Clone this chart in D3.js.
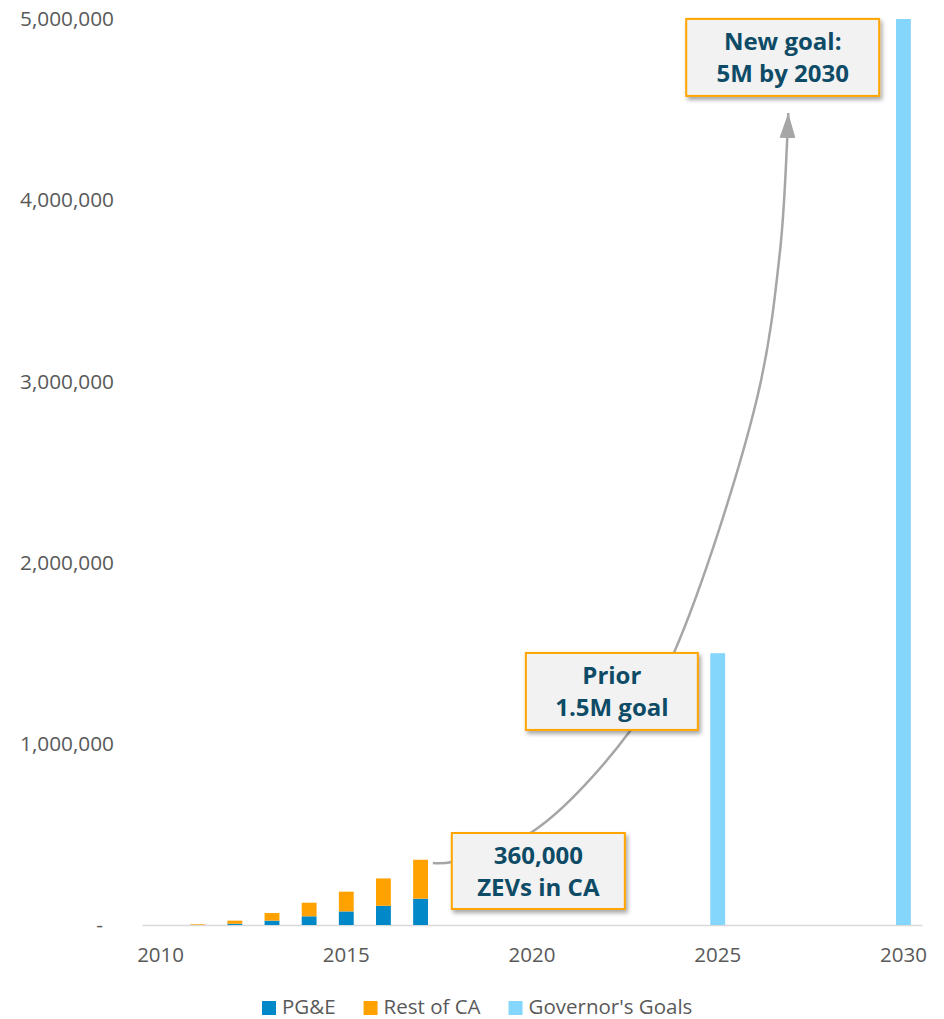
<!DOCTYPE html>
<html>
<head>
<meta charset="utf-8">
<script src="https://cdn.jsdelivr.net/npm/d3@7"></script>
<style>
  html, body { margin: 0; padding: 0; background: #fff; }
  svg { display: block; }
</style>
</head>
<body>
<svg id="chart" width="944" height="1019"></svg>
<script>
// Zero-emission vehicles on the road in California, with state goals
const years = ["2010","2011","2012","2013","2014","2015","2016","2017","2018","2019","2020",
               "2021","2022","2023","2024","2025","2026","2027","2028","2029","2030"];
const historyYears = ["2010","2011","2012","2013","2014","2015","2016","2017"];
const pgeValues    = [0, 500, 7000, 24000, 48000, 75000, 106000, 145000];
const restValues   = [0, 3500, 17000, 42000, 75000, 109000, 151000, 215000];
const goalYears    = ["2025", "2030"];
const goalValues   = [1500000, 5000000];
const xTickLabels  = ["2010","2015","2020","2025","2030"];
const yTickValues  = [0, 1000000, 2000000, 3000000, 4000000, 5000000];
const legendLabels = ["PG&E", "Rest of CA", "Governor's Goals"];

// Callouts, positioned in chart units (year, vehicles)
const callouts = [
  { lines: ["360,000", "ZEVs in CA"], year: 2020.17, value: 298000, w: 173, h: 76 },
  { lines: ["Prior", "1.5M goal"],    year: 2022.15, value: 1289000, w: 172, h: 77 },
  { lines: ["New goal:", "5M by 2030"], year: 2026.75, value: 4788000, w: 193, h: 77 }
];
// Path of the growth arrow, in chart units (year, vehicles)
const arrowYears  = [2017.33, 2017.85, 2020.0, 2022.64, 2023.83, 2026.06, 2026.68, 2026.87, 2026.9];
const arrowValues = [342000, 348000, 513000, 1071000, 1507000, 2908000, 3725000, 4332000, 4481000];

const colors = { pge: "#0088C8", rest: "#FFA200", goal: "#85D6FC" };
const legendColors = [colors.pge, colors.rest, colors.goal];

const svg = d3.select("#chart");
const plotLeft = 142, plotRight = 922, plotTop = 19, plotBottom = 925;

const x = d3.scaleBand().domain(years).range([plotLeft, plotRight]).paddingInner(0.6).paddingOuter(0.3);
const y = d3.scaleLinear().domain([0, 5000000]).range([plotBottom, plotTop]);
// continuous year position, aligned with band centres
const xYear = d3.scaleLinear().domain([2010, 2030])
  .range([x("2010") + x.bandwidth() / 2, x("2030") + x.bandwidth() / 2]);

const defs = svg.append("defs");
const shadow = defs.append("filter").attr("id", "shadow")
  .attr("x", "-10%").attr("y", "-10%").attr("width", "130%").attr("height", "140%");
shadow.append("feDropShadow").attr("dx", 2).attr("dy", 3).attr("stdDeviation", 2.2)
  .attr("flood-color", "#000").attr("flood-opacity", 0.35);
defs.append("marker").attr("id", "arrowhead")
  .attr("viewBox", "0 0 25 16").attr("refX", 25).attr("refY", 8)
  .attr("markerWidth", 25).attr("markerHeight", 16)
  .attr("markerUnits", "userSpaceOnUse").attr("orient", "auto")
  .append("path").attr("d", "M0,0 L25,8 L0,16 Z").attr("fill", "#A6A6A6");

// Y axis (labels only)
const yAxis = svg.append("g").attr("transform", `translate(${plotLeft},0)`)
  .call(d3.axisLeft(y).tickValues(yTickValues).tickSize(0).tickPadding(28)
    .tickFormat(d => d === 0 ? "-" : d3.format(",")(d)));
yAxis.select(".domain").remove();
yAxis.selectAll("text").attr("font-family", "'Open Sans', sans-serif")
  .attr("font-size", 20.8).attr("fill", "#595959")
  .attr("dx", d => d === 0 ? -11 : 0);

// X axis
const xAxis = svg.append("g").attr("transform", `translate(0,${plotBottom})`)
  .call(d3.axisBottom(x).tickValues(xTickLabels).tickSize(0).tickPadding(22).tickSizeOuter(0));
xAxis.select(".domain").attr("stroke", "#D9D9D9").attr("stroke-width", 1.5);
xAxis.selectAll("text").attr("font-family", "'Open Sans', sans-serif")
  .attr("font-size", 20.5).attr("fill", "#595959");

// Stacked history bars
const history = historyYears.map((yr, i) => ({ year: yr, pge: pgeValues[i], rest: restValues[i] }));
const stack = d3.stack().keys(["pge", "rest"])(history);
svg.append("g").selectAll("g").data(stack).join("g")
  .attr("fill", d => colors[d.key])
  .selectAll("rect").data(d => d).join("rect")
  .attr("x", d => x(d.data.year))
  .attr("width", x.bandwidth())
  .attr("y", d => y(d[1]))
  .attr("height", d => y(d[0]) - y(d[1]));

// Goal bars
svg.append("g").selectAll("rect").data(goalYears.map((yr, i) => ({ year: yr, value: goalValues[i] })))
  .join("rect")
  .attr("fill", colors.goal)
  .attr("x", d => x(d.year))
  .attr("width", x.bandwidth())
  .attr("y", d => y(d.value))
  .attr("height", d => y(0) - y(d.value));

// Growth arrow
const arrowPts = arrowYears.map((yr, i) => [xYear(yr), y(arrowValues[i])]);
svg.append("path")
  .attr("d", d3.line().curve(d3.curveCatmullRom.alpha(0.5))(arrowPts))
  .attr("fill", "none").attr("stroke", "#A6A6A6").attr("stroke-width", 2.5)
  .attr("marker-end", "url(#arrowhead)");

// Callout boxes
const boxes = svg.append("g").selectAll("g").data(callouts).join("g")
  .attr("transform", d => `translate(${xYear(d.year)},${y(d.value)})`);
boxes.append("rect")
  .attr("x", d => -d.w / 2).attr("y", d => -d.h / 2)
  .attr("width", d => d.w).attr("height", d => d.h)
  .attr("fill", "#F2F2F2").attr("stroke", "#FFA500").attr("stroke-width", 2)
  .attr("filter", "url(#shadow)");
boxes.each(function(d) {
  const g = d3.select(this);
  d.lines.forEach((line, i) => {
    g.append("text")
      .attr("x", 0).attr("y", -7 + i * 32)
      .attr("text-anchor", "middle")
      .attr("font-family", "'Open Sans', sans-serif")
      .attr("font-weight", 700).attr("font-size", 24)
      .attr("fill", "#0D4B66")
      .text(line);
  });
});

// Legend
const legend = svg.append("g");
let lx = 262;
legendLabels.forEach((label, i) => {
  legend.append("rect").attr("x", lx).attr("y", 1001).attr("width", 14).attr("height", 14)
    .attr("fill", legendColors[i]);
  const t = legend.append("text").attr("x", lx + 20).attr("y", 1014)
    .attr("font-family", "'Open Sans', sans-serif").attr("font-size", 20.5)
    .attr("fill", "#595959").text(label);
  lx += 20 + t.node().getComputedTextLength() + 28;
});
</script>
</body>
</html>
